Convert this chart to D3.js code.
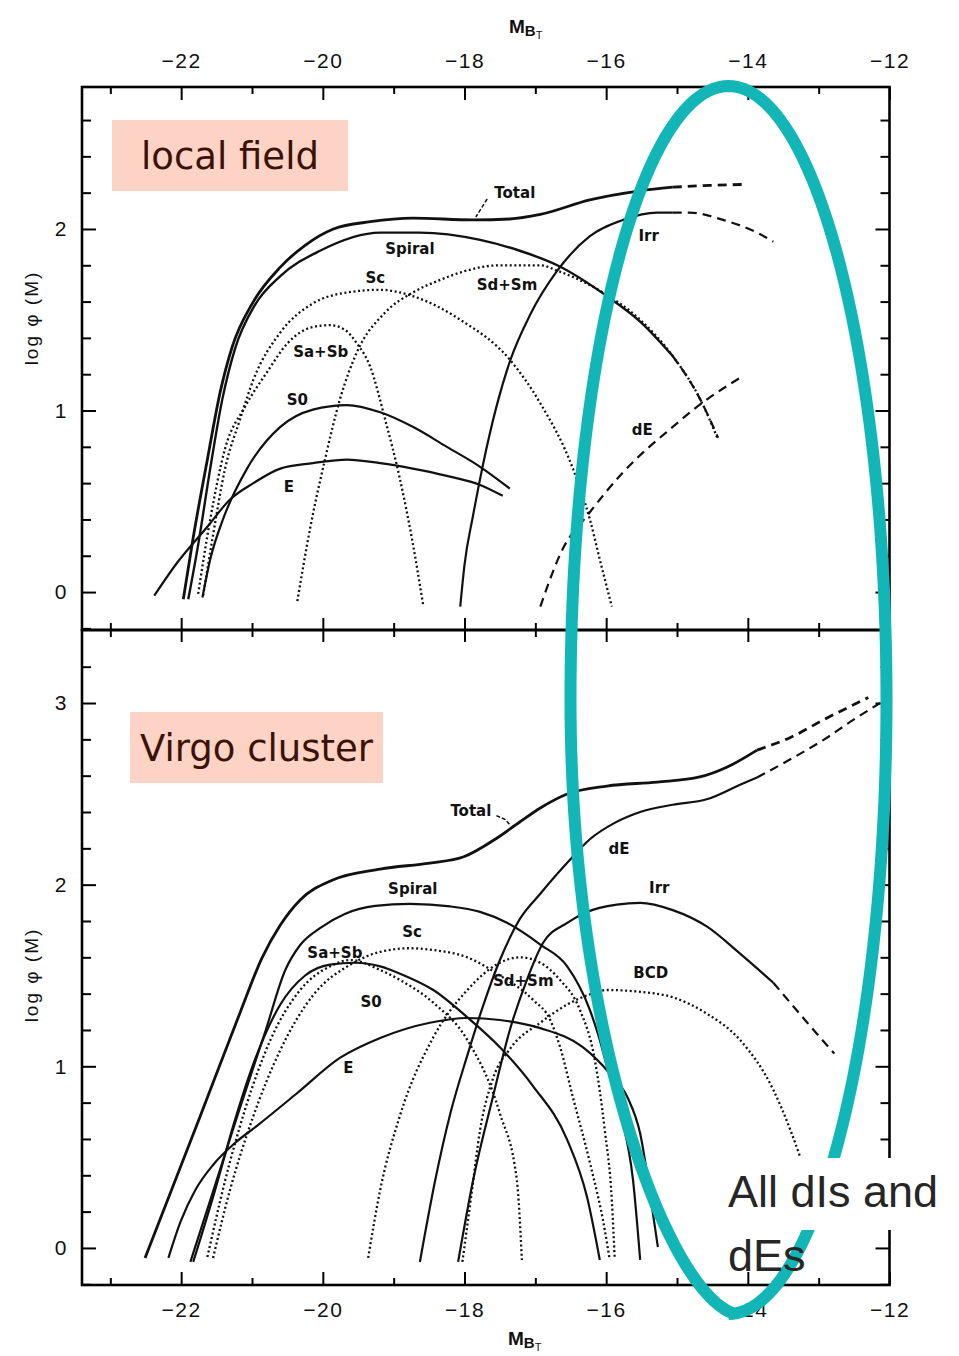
<!DOCTYPE html>
<html>
<head>
<meta charset="utf-8">
<script src="https://cdn.jsdelivr.net/npm/d3@7"></script>
<style>
  html, body { margin: 0; padding: 0; background: #fff; }
  svg { display: block; }
</style>
</head>
<body>
<svg id="chart" width="959" height="1356"></svg>
<script>
// ---- tick values ----
const magTicks = [-22, -20, -18, -16, -14, -12];
const fieldTicks = [0, 1, 2];
const virgoTicks = [0, 1, 2, 3];

// ---- local field luminosity functions: [M_BT, log phi(M)] ----
const fieldTotal = [[-21.97,-0.04],[-21.83,0.30],[-21.63,0.73],[-21.45,1.10],[-21.28,1.35],[-20.98,1.60],[-20.60,1.79],[-20.25,1.91],[-19.85,2.00],[-19.33,2.04],[-18.73,2.06],[-17.88,2.05],[-17.36,2.055],[-16.93,2.08],[-16.23,2.16],[-15.52,2.21],[-15.06,2.23]];
const fieldTotalExt = [[-15.06,2.23],[-14.53,2.24],[-14.07,2.245]];
const fieldSpiral = [[-21.90,-0.04],[-21.76,0.26],[-21.59,0.68],[-21.42,1.06],[-21.24,1.34],[-20.96,1.58],[-20.60,1.74],[-20.04,1.88],[-19.19,1.98],[-18.63,1.98],[-17.78,1.94],[-17.22,1.88],[-16.69,1.80],[-15.99,1.63],[-15.52,1.49],[-15.06,1.30]];
const fieldSpiralExt = [[-15.06,1.30],[-14.67,1.06],[-14.42,0.85]];
const fieldSaSb = [[-21.76,-0.01],[-21.59,0.40],[-21.38,0.79],[-21.10,1.02],[-20.79,1.21],[-20.50,1.37],[-20.14,1.46],[-19.90,1.47],[-19.69,1.445],[-19.52,1.37],[-19.33,1.24],[-19.12,0.95],[-18.91,0.62],[-18.74,0.29],[-18.58,-0.08]];
const fieldSc = [[-21.69,-0.02],[-21.56,0.29],[-21.38,0.68],[-21.17,0.95],[-20.98,1.17],[-20.60,1.43],[-20.14,1.59],[-19.66,1.65],[-19.19,1.665],[-18.73,1.63],[-18.06,1.50],[-17.36,1.28],[-16.93,1.04],[-16.47,0.68],[-16.23,0.40],[-16.09,0.18],[-15.92,-0.08]];
const fieldSdSm = [[-20.36,-0.05],[-20.18,0.35],[-19.97,0.73],[-19.76,1.06],[-19.52,1.32],[-19.12,1.54],[-18.73,1.65],[-18.34,1.72],[-18.02,1.765],[-17.50,1.80],[-16.93,1.80],[-16.69,1.77],[-16.09,1.66],[-15.52,1.50],[-15.06,1.30],[-14.67,1.06],[-14.42,0.84]];
const fieldS0 = [[-21.70,-0.03],[-21.59,0.18],[-21.41,0.40],[-21.07,0.68],[-20.60,0.91],[-20.14,1.005],[-19.66,1.03],[-19.19,0.99],[-18.73,0.91],[-18.25,0.80],[-17.78,0.69],[-17.36,0.57]];
const fieldE = [[-22.38,-0.02],[-22.06,0.16],[-21.63,0.36],[-21.31,0.51],[-20.98,0.60],[-20.60,0.68],[-20.14,0.71],[-19.66,0.73],[-19.19,0.71],[-18.73,0.68],[-18.25,0.64],[-17.78,0.59],[-17.46,0.53]];
const fieldIrr = [[-18.06,-0.08],[-18.00,0.15],[-17.88,0.42],[-17.74,0.70],[-17.55,1.02],[-17.36,1.27],[-17.07,1.53],[-16.69,1.77],[-16.23,1.96],[-15.76,2.05],[-15.28,2.09],[-15.06,2.09]];
const fieldIrrExt = [[-15.06,2.09],[-14.82,2.09],[-14.35,2.05],[-13.87,1.98],[-13.64,1.93]];
const fieldDE = [[-16.93,-0.08],[-16.61,0.24],[-16.27,0.42],[-15.76,0.66],[-15.06,0.91],[-14.65,1.04],[-14.11,1.18]];

// ---- Virgo cluster luminosity functions: [M_BT, log phi(M)] ----
const virgoTotal = [[-22.51,-0.055],[-21.73,0.727],[-21.17,1.294],[-20.86,1.596],[-20.60,1.778],[-20.32,1.916],[-19.86,2.026],[-19.19,2.086],[-18.49,2.119],[-18.02,2.152],[-17.54,2.257],[-17.22,2.345],[-16.93,2.422],[-16.55,2.499],[-15.99,2.543],[-15.28,2.565],[-14.68,2.593],[-14.29,2.648],[-13.87,2.741]];
const virgoTotalExt = [[-13.87,2.741],[-13.40,2.81],[-12.92,2.91],[-12.30,3.03]];
const virgoSpiral = [[-21.87,-0.077],[-21.52,0.347],[-21.17,0.771],[-20.81,1.194],[-20.53,1.530],[-20.32,1.668],[-20.04,1.761],[-19.69,1.839],[-19.26,1.883],[-18.77,1.894],[-18.20,1.88],[-17.78,1.85],[-17.40,1.79],[-16.93,1.67],[-16.55,1.55],[-16.23,1.31],[-16.09,1.145],[-15.99,1.00],[-15.80,0.74],[-15.62,0.37],[-15.52,-0.066]];
const virgoSaSb = [[-21.63,-0.05],[-21.38,0.37],[-21.10,0.76],[-20.74,1.145],[-20.32,1.42],[-19.90,1.55],[-19.61,1.585],[-19.19,1.53],[-18.91,1.475],[-18.44,1.35],[-17.96,1.145],[-17.50,0.74],[-17.26,0.37],[-17.19,-0.066]];
const virgoSc = [[-21.55,-0.055],[-21.31,0.32],[-21.00,0.705],[-20.60,1.09],[-20.14,1.39],[-19.61,1.56],[-19.19,1.63],[-18.77,1.65],[-18.44,1.64],[-17.96,1.60],[-17.50,1.50],[-17.03,1.365],[-16.79,1.255],[-16.65,1.105],[-16.47,0.83],[-16.23,0.47],[-16.02,0.10],[-15.95,-0.066]];
const virgoSdSm = [[-19.36,-0.055],[-19.19,0.32],[-18.91,0.73],[-18.44,1.16],[-17.96,1.42],[-17.50,1.57],[-17.22,1.60],[-16.93,1.57],[-16.65,1.475],[-16.37,1.31],[-16.16,1.035],[-16.02,0.65],[-15.92,0.26],[-15.88,-0.055]];
const virgoS0 = [[-21.83,-0.077],[-21.52,0.32],[-21.24,0.705],[-20.96,1.035],[-20.60,1.34],[-20.25,1.50],[-19.90,1.56],[-19.54,1.57],[-19.19,1.55],[-18.91,1.51],[-18.44,1.42],[-17.96,1.27],[-17.50,1.105],[-17.03,0.89],[-16.55,0.595],[-16.27,0.28],[-16.09,-0.066]];
const virgoE = [[-22.18,-0.055],[-22.01,0.143],[-21.80,0.319],[-21.55,0.457],[-21.24,0.578],[-20.93,0.672],[-20.36,0.853],[-19.76,1.046],[-19.19,1.156],[-18.49,1.24],[-17.96,1.266],[-17.50,1.255],[-16.93,1.21],[-16.33,1.105],[-15.95,0.96],[-15.70,0.83],[-15.52,0.63],[-15.34,0.19],[-15.27,0.005]];
const virgoBCD = [[-18.03,-0.077],[-17.90,0.30],[-17.78,0.65],[-17.60,0.93],[-17.35,1.10],[-16.93,1.24],[-16.55,1.34],[-16.20,1.40],[-15.99,1.42],[-15.52,1.41],[-15.06,1.38],[-14.58,1.29],[-14.11,1.145],[-13.64,0.87],[-13.40,0.65],[-13.26,0.50]];
const virgoIrr = [[-18.09,-0.077],[-17.88,0.37],[-17.60,0.83],[-17.36,1.20],[-17.12,1.475],[-16.89,1.68],[-16.55,1.79],[-16.27,1.85],[-15.85,1.89],[-15.52,1.90],[-15.06,1.86],[-14.58,1.77],[-14.11,1.62],[-13.64,1.46]];
const virgoIrrExt = [[-13.64,1.46],[-13.16,1.24],[-12.78,1.07]];
const virgoDE = [[-18.63,-0.077],[-18.415,0.37],[-18.20,0.74],[-17.96,1.06],[-17.74,1.33],[-17.50,1.585],[-17.22,1.81],[-16.93,1.95],[-16.55,2.12],[-16.23,2.25],[-15.88,2.34],[-15.52,2.40],[-15.06,2.44],[-14.58,2.47],[-14.11,2.55],[-13.87,2.59]];
const virgoDEExt = [[-13.87,2.59],[-13.40,2.69],[-12.92,2.80],[-12.54,2.90],[-12.05,3.02]];

// ---- curve labels: [text, M_BT, log phi] ----
const fieldLabels = [["Total",-17.29,2.20],["Spiral",-18.77,1.89],["Sc",-19.26,1.73],["Sd+Sm",-17.40,1.69],["Irr",-15.40,1.96],["Sa+Sb",-20.03,1.32],["S0",-20.36,1.06],["E",-20.48,0.58],["dE",-15.49,0.89]];
const virgoLabels = [["Total",-17.91,2.405],["Spiral",-18.73,1.976],["Sc",-18.74,1.74],["Sa+Sb",-19.83,1.625],["S0",-19.32,1.354],["E",-19.64,0.99],["Sd+Sm",-17.17,1.47],["BCD",-15.37,1.514],["Irr",-15.25,1.98],["dE",-15.82,2.196]];
const fieldLeaders = [[[-17.68,2.165],[-17.84,2.066]]];
const virgoLeaders = [[[-17.55,2.38],[-17.43,2.36],[-17.36,2.33]]];

// ---- layout ----
const svg = d3.select("#chart");
const L = 82, R = 889.5;
const topY0 = 87, midY = 630, botY1 = 1285;

const x = d3.scaleLinear().domain([-23.4, -12]).range([L, R]);
const yField = d3.scaleLinear().domain([-0.209, 2.782]).range([midY, topY0]);
const yVirgo = d3.scaleLinear().domain([-0.204, 3.402]).range([botY1, midY]);

const tickFont = "'Liberation Sans Narrow', 'Liberation Sans', sans-serif";
const labelFont = "'DejaVu Sans', sans-serif";
const fmtMag = d => (d < 0 ? "\u2212" + Math.abs(d) : String(d));

// minor tick positions
const magMinor = d3.range(-23, -12, 1).filter(d => d % 2 !== 0);
const fieldMinor = d3.range(-1, 14).map(i => i / 5).filter(v => Math.abs(v - Math.round(v)) > 1e-6);
const virgoMinor = d3.range(-1, 17).map(i => i / 5).filter(v => Math.abs(v - Math.round(v)) > 1e-6 && v < 3.4);

function styleAxis(g, withText) {
  g.select(".domain").remove();
  g.selectAll(".tick line").attr("stroke", "#000").attr("stroke-width", 2);
  if (withText) {
    g.selectAll(".tick text")
      .attr("font-family", tickFont)
      .attr("font-size", 21)
      .attr("letter-spacing", 1.5)
      .attr("fill", "#111");
  } else {
    g.selectAll(".tick text").remove();
  }
}

function addAxis(axis, tx, ty, withText) {
  svg.append("g")
    .attr("transform", `translate(${tx},${ty})`)
    .call(axis)
    .call(g => styleAxis(g, withText));
}

// x axes: top of upper panel, shared middle line, bottom of lower panel
addAxis(d3.axisTop(x).tickValues(magTicks).tickSize(-13).tickPadding(19).tickFormat(fmtMag), 0, topY0, true);
addAxis(d3.axisTop(x).tickValues(magMinor).tickSize(-7).tickFormat(""), 0, topY0, false);
addAxis(d3.axisBottom(x).tickValues(magTicks).tickSize(-12).tickFormat(""), 0, midY, false);
addAxis(d3.axisBottom(x).tickValues(magMinor).tickSize(-7).tickFormat(""), 0, midY, false);
addAxis(d3.axisTop(x).tickValues(magTicks).tickSize(-12).tickFormat(""), 0, midY, false);
addAxis(d3.axisTop(x).tickValues(magMinor).tickSize(-7).tickFormat(""), 0, midY, false);
addAxis(d3.axisBottom(x).tickValues(magTicks).tickSize(-13).tickPadding(17).tickFormat(fmtMag), 0, botY1, true);
addAxis(d3.axisBottom(x).tickValues(magMinor).tickSize(-7).tickFormat(""), 0, botY1, false);

// y axes, both panels, left and right
[[yField, fieldTicks, fieldMinor], [yVirgo, virgoTicks, virgoMinor]].forEach(([ys, major, minor]) => {
  addAxis(d3.axisLeft(ys).tickValues(major).tickSize(-14).tickPadding(14).tickFormat(d3.format("d")), L, 0, true);
  addAxis(d3.axisLeft(ys).tickValues(minor).tickSize(-9).tickFormat(""), L, 0, false);
  addAxis(d3.axisRight(ys).tickValues(major).tickSize(-14).tickFormat(""), R, 0, false);
  addAxis(d3.axisRight(ys).tickValues(minor).tickSize(-9).tickFormat(""), R, 0, false);
});

// panel frames
svg.append("rect").attr("x", L).attr("y", topY0).attr("width", R - L).attr("height", midY - topY0)
  .attr("fill", "none").attr("stroke", "#000").attr("stroke-width", 2.6);
svg.append("rect").attr("x", L).attr("y", midY).attr("width", R - L).attr("height", botY1 - midY)
  .attr("fill", "none").attr("stroke", "#000").attr("stroke-width", 2.6);

// axis titles M_BT
function magTitle(xc, yb) {
  const t = svg.append("text").attr("x", xc).attr("y", yb)
    .attr("font-family", "'Liberation Sans', sans-serif").attr("fill", "#111");
  t.append("tspan").attr("font-size", 19).attr("font-weight", "bold").text("M");
  t.append("tspan").attr("font-size", 15).attr("font-weight", "bold").attr("dy", 3).text("B");
  t.append("tspan").attr("font-size", 11).attr("dy", 3).text("T");
}
magTitle(509, 33);
magTitle(508, 1345);

// y titles
function yTitle(yc) {
  svg.append("text")
    .attr("transform", `translate(38,${yc}) rotate(-90)`)
    .attr("text-anchor", "middle")
    .attr("font-family", "'Liberation Sans', sans-serif")
    .attr("font-size", 19).attr("letter-spacing", 2).attr("fill", "#111")
    .text("log \u03c6 (M)");
}
yTitle(318);
yTitle(975);

// ---- curves ----
const dash = { solid: null, dotted: "2,2.6", dashed: "9,6" };

const fieldSeries = [
  [fieldE, "solid", 2.2], [fieldS0, "solid", 2.2],
  [fieldSaSb, "dotted", 2.3], [fieldSc, "dotted", 2.3], [fieldSdSm, "dotted", 2.3],
  [fieldSpiral, "solid", 2.4], [fieldSpiralExt, "dashed", 2.2],
  [fieldIrr, "solid", 2.2], [fieldIrrExt, "dashed", 2.2],
  [fieldDE, "dashed", 2.2],
  [fieldTotal, "solid", 2.8], [fieldTotalExt, "dashed", 2.8]
];
const virgoSeries = [
  [virgoE, "solid", 2.2], [virgoS0, "solid", 2.2],
  [virgoSaSb, "dotted", 2.3], [virgoSc, "dotted", 2.3], [virgoSdSm, "dotted", 2.3],
  [virgoBCD, "dotted", 2.3],
  [virgoSpiral, "solid", 2.2],
  [virgoIrr, "solid", 2.2], [virgoIrrExt, "dashed", 2.2],
  [virgoDE, "solid", 2.2], [virgoDEExt, "dashed", 2.2],
  [virgoTotal, "solid", 2.8], [virgoTotalExt, "dashed", 2.8]
];

function drawPanel(series, ys, labels, leaders) {
  const line = d3.line().x(d => x(d[0])).y(d => ys(d[1])).curve(d3.curveMonotoneX);
  const g = svg.append("g");
  series.forEach(([data, style, w]) => {
    g.append("path").attr("d", line(data))
      .attr("fill", "none").attr("stroke", "#111")
      .attr("stroke-width", w)
      .attr("stroke-dasharray", dash[style])
      .attr("stroke-linejoin", "round");
  });
  const straight = d3.line().x(d => x(d[0])).y(d => ys(d[1]));
  leaders.forEach(pts => {
    g.append("path").attr("d", straight(pts)).attr("fill", "none")
      .attr("stroke", "#111").attr("stroke-width", 1.5).attr("stroke-dasharray", "4,2");
  });
  labels.forEach(([txt, m, v]) => {
    g.append("text")
      .attr("x", x(m)).attr("y", ys(v))
      .attr("text-anchor", "middle").attr("dominant-baseline", "central")
      .attr("font-family", labelFont).attr("font-weight", "bold")
      .attr("font-size", 15).attr("fill", "#111")
      .text(txt);
  });
}
drawPanel(fieldSeries, yField, fieldLabels, fieldLeaders);
drawPanel(virgoSeries, yVirgo, virgoLabels, virgoLeaders);

// ---- panel name boxes ----
function nameBox(x0, y0, w, h, txt) {
  svg.append("rect").attr("x", x0).attr("y", y0).attr("width", w).attr("height", h).attr("fill", "#fcd3c5");
  svg.append("text").attr("x", x0 + w / 2).attr("y", y0 + h / 2 + 1)
    .attr("text-anchor", "middle").attr("dominant-baseline", "central")
    .attr("font-family", labelFont).attr("font-size", 37)
    .attr("fill", "#3a1208").text(txt);
}
nameBox(112, 120, 236, 71, "local field");
nameBox(130, 712, 253, 71, "Virgo cluster");

// ---- highlight ring around the faint end ----
const ring = { cx: 728.5, cy: 700, rx: 158, ry: 614 };
const ringPts = d3.range(0, 360, 1.5).map(deg => {
  const t = deg * Math.PI / 180, c = Math.cos(t), s = Math.sin(t);
  let px = ring.cx + ring.rx * c;
  const py = ring.cy + ring.ry * s;
  if (c < 0 && s > 0) px += 30 * s * s * Math.pow(-c, 0.3);
  return [px, py];
});
svg.append("path")
  .attr("d", d3.line().curve(d3.curveLinearClosed)(ringPts))
  .attr("fill", "none").attr("stroke", "#13b6b6").attr("stroke-width", 12);

// ---- note ----
svg.append("rect").attr("x", 725).attr("y", 1158).attr("width", 234).attr("height", 72).attr("fill", "#fff");
svg.append("text").attr("x", 728).attr("y", 1207)
  .attr("font-family", "'Liberation Sans', Arial, sans-serif").attr("font-size", 45)
  .attr("fill", "#262626").text("All dIs and");
svg.append("text").attr("x", 728).attr("y", 1271)
  .attr("font-family", "'Liberation Sans', Arial, sans-serif").attr("font-size", 45)
  .attr("fill", "#262626").text("dEs");
</script>
</body>
</html>
